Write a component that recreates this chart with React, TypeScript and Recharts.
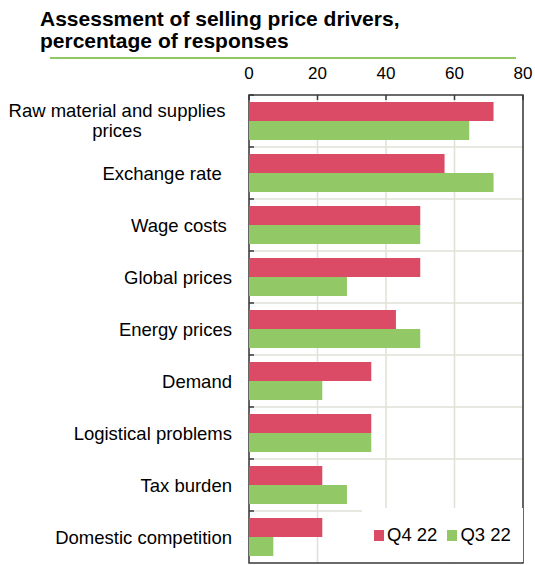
import React from 'react';
import {
  BarChart,
  Bar,
  XAxis,
  YAxis,
  CartesianGrid,
  Legend,
  ReferenceArea,
} from 'recharts';

const CATEGORIES = [
  'Raw material and supplies\nprices',
  'Exchange rate  ',
  'Wage costs ',
  'Global prices',
  'Energy prices',
  'Demand',
  'Logistical problems',
  'Tax burden',
  'Domestic competition',
];
const Q4_22 = [71.4, 57.1, 50.0, 50.0, 42.9, 35.7, 35.7, 21.4, 21.4];
const Q3_22 = [64.3, 71.4, 50.0, 28.6, 50.0, 21.4, 35.7, 28.6, 7.1];
const X_TICKS = [0, 20, 40, 60, 80];
const SERIES_ORDER = ['q4', 'q3'];

const data = CATEGORIES.map((name, i) => ({ name, q4: Q4_22[i], q3: Q3_22[i] }));

const RED = '#dc4b66';
const GREEN = '#92c966';
const DARK = '#3a3a3a';
const GRID = '#e0e0d6';
const FONT = '"Liberation Sans", Arial, sans-serif';

const W = 535;
const H = 565;
const TOP = 95;
const BOTTOM = 2;
const BAND = (H - TOP - BOTTOM) / CATEGORIES.length;

function ValueTick(props: any) {
  const { x, y, payload } = props;
  return (
    <g>
      <line x1={x} x2={x} y1={y + 16} y2={y + 21} stroke={DARK} strokeWidth={1.5} />
      <text x={x} y={y} textAnchor="middle" fontSize={17} fill="#000" fontFamily={FONT}>
        {payload.value}
      </text>
    </g>
  );
}

function CategoryTick(props: any) {
  const { x, y, payload } = props;
  const lines = String(payload.value).split('\n');
  const axisX = x + 17;
  return (
    <g>
      <line x1={axisX} x2={axisX + 5} y1={y - BAND / 2} y2={y - BAND / 2} stroke={DARK} strokeWidth={1.5} />
      {lines.length > 1 ? (
        <text x={x - 115} y={y} textAnchor="middle" fontSize={18.5} fill="#000" fontFamily={FONT}>
          {lines.map((l, i) => (
            <tspan key={i} x={x - 115} y={y - 4 + i * 20}>{l}</tspan>
          ))}
        </text>
      ) : (
        <text x={x} y={y + 6.5} textAnchor="end" fontSize={18.5} fill="#000" fontFamily={FONT} style={{ whiteSpace: 'pre' }}>
          {lines[0]}
        </text>
      )}
    </g>
  );
}

function LegendContent(props: any) {
  const items = [...(props.payload || [])].sort(
    (a: any, b: any) => SERIES_ORDER.indexOf(a.dataKey) - SERIES_ORDER.indexOf(b.dataKey)
  );
  return (
    <div style={{ display: 'flex', alignItems: 'center', height: '100%', paddingLeft: 12, fontFamily: FONT, fontSize: 18.5 }}>
      {items.map((p: any, i: number) => (
        <div key={i} style={{ display: 'flex', alignItems: 'center', marginRight: 10 }}>
          <span style={{ width: 10, height: 11, background: p.color, display: 'inline-block', marginRight: 3 }} />
          <span style={{ color: '#000' }}>{p.value}</span>
        </div>
      ))}
    </div>
  );
}

export default function App() {
  return (
    <div style={{ position: 'relative', width: W, height: H, fontFamily: FONT }}>
      <style>{'body{margin:0}'}</style>
      <div
        style={{
          position: 'absolute',
          left: 40,
          top: 8,
          fontSize: 21,
          fontWeight: 'bold',
          lineHeight: '22px',
          color: '#000',
          zIndex: 2,
        }}
      >
        Assessment of selling price drivers,
        <br />
        percentage of responses
      </div>
      <div style={{ position: 'absolute', left: 50, top: 57, width: 466, height: 2, background: '#92c862', zIndex: 2 }} />
      <BarChart
        width={W}
        height={H}
        data={data}
        layout="vertical"
        margin={{ top: 60, right: 12, bottom: BOTTOM, left: 0 }}
        barGap={0}
        barSize={19}
      >
        <CartesianGrid
          stroke={GRID}
          strokeWidth={1.5}
          horizontalCoordinatesGenerator={({ offset }: any) =>
            CATEGORIES.slice(1).map((_, i) => offset.top + ((i + 1) * offset.height) / CATEGORIES.length)
          }
        />
        <XAxis
          type="number"
          orientation="top"
          domain={[0, 80]}
          ticks={X_TICKS}
          height={TOP - 60}
          tickSize={0}
          tickMargin={16}
          axisLine={false}
          tickLine={false}
          tick={<ValueTick />}
          interval={0}
        />
        <YAxis
          type="category"
          dataKey="name"
          width={249}
          tickSize={0}
          tickMargin={17}
          tickLine={false}
          axisLine={false}
          tick={<CategoryTick />}
          interval={0}
        />
        <Legend
          layout="horizontal"
          verticalAlign="middle"
          align="center"
          content={<LegendContent />}
          wrapperStyle={{ left: 362, top: 508, width: 161, height: 54, background: '#fff' }}
        />
        <Bar dataKey="q4" name="Q4 22" fill={RED} isAnimationActive={false} />
        <Bar dataKey="q3" name="Q3 22" fill={GREEN} isAnimationActive={false} />
        <ReferenceArea x1={0} x2={80} fill="none" fillOpacity={0} stroke={DARK} strokeWidth={1.5} />
      </BarChart>
    </div>
  );
}
